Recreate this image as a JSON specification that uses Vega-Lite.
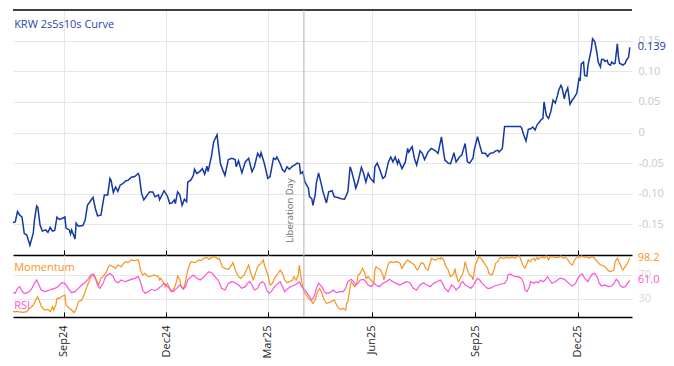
{
 "$schema": "https://vega.github.io/schema/vega-lite/v6.json",
 "padding": {"left": 10, "top": 9, "right": 5, "bottom": 5},
 "background": "white",
 "spacing": 0,
 "bounds": "flush",
 "config": {
  "view": {"stroke": null},
  "font": "Open Sans",
  "axis": {"gridColor": "#e6e6e6", "labelFont": "Open Sans", "titleFont": "Open Sans"},
  "text": {"font": "Open Sans"}
 },
 "datasets": {
  "curve": [
{"date":"2024-07-18","v":-0.147},{"date":"2024-07-20","v":-0.146},{"date":"2024-07-22","v":-0.129},{"date":"2024-07-24","v":-0.135},{"date":"2024-07-26","v":-0.138},{"date":"2024-07-28","v":-0.165},{"date":"2024-07-30","v":-0.167},{"date":"2024-07-31","v":-0.172},{"date":"2024-08-02","v":-0.184},{"date":"2024-08-05","v":-0.164},{"date":"2024-08-06","v":-0.143},{"date":"2024-08-08","v":-0.120},{"date":"2024-08-09","v":-0.122},{"date":"2024-08-11","v":-0.151},{"date":"2024-08-13","v":-0.161},{"date":"2024-08-16","v":-0.159},{"date":"2024-08-18","v":-0.163},{"date":"2024-08-20","v":-0.155},{"date":"2024-08-22","v":-0.161},{"date":"2024-08-24","v":-0.160},{"date":"2024-08-26","v":-0.138},{"date":"2024-08-28","v":-0.142},{"date":"2024-08-31","v":-0.140},{"date":"2024-09-02","v":-0.138},{"date":"2024-09-03","v":-0.156},{"date":"2024-09-06","v":-0.159},{"date":"2024-09-07","v":-0.166},{"date":"2024-09-08","v":-0.159},{"date":"2024-09-11","v":-0.174},{"date":"2024-09-12","v":-0.148},{"date":"2024-09-14","v":-0.153},{"date":"2024-09-18","v":-0.152},{"date":"2024-09-20","v":-0.143},{"date":"2024-09-22","v":-0.119},{"date":"2024-09-25","v":-0.111},{"date":"2024-09-27","v":-0.106},{"date":"2024-09-29","v":-0.124},{"date":"2024-10-01","v":-0.136},{"date":"2024-10-04","v":-0.135},{"date":"2024-10-07","v":-0.102},{"date":"2024-10-10","v":-0.102},{"date":"2024-10-12","v":-0.075},{"date":"2024-10-13","v":-0.078},{"date":"2024-10-15","v":-0.098},{"date":"2024-10-17","v":-0.089},{"date":"2024-10-19","v":-0.096},{"date":"2024-10-21","v":-0.086},{"date":"2024-10-23","v":-0.084},{"date":"2024-10-26","v":-0.079},{"date":"2024-10-28","v":-0.078},{"date":"2024-10-31","v":-0.073},{"date":"2024-11-03","v":-0.072},{"date":"2024-11-06","v":-0.067},{"date":"2024-11-07","v":-0.071},{"date":"2024-11-09","v":-0.099},{"date":"2024-11-11","v":-0.110},{"date":"2024-11-13","v":-0.105},{"date":"2024-11-16","v":-0.097},{"date":"2024-11-19","v":-0.097},{"date":"2024-11-21","v":-0.105},{"date":"2024-11-24","v":-0.102},{"date":"2024-11-25","v":-0.110},{"date":"2024-11-29","v":-0.095},{"date":"2024-12-02","v":-0.104},{"date":"2024-12-04","v":-0.116},{"date":"2024-12-06","v":-0.115},{"date":"2024-12-08","v":-0.110},{"date":"2024-12-09","v":-0.116},{"date":"2024-12-11","v":-0.097},{"date":"2024-12-13","v":-0.102},{"date":"2024-12-15","v":-0.119},{"date":"2024-12-17","v":-0.109},{"date":"2024-12-19","v":-0.113},{"date":"2024-12-20","v":-0.081},{"date":"2024-12-23","v":-0.077},{"date":"2024-12-25","v":-0.070},{"date":"2024-12-26","v":-0.060},{"date":"2024-12-28","v":-0.067},{"date":"2024-12-31","v":-0.063},{"date":"2025-01-02","v":-0.059},{"date":"2025-01-04","v":-0.068},{"date":"2025-01-06","v":-0.055},{"date":"2025-01-07","v":-0.064},{"date":"2025-01-10","v":-0.039},{"date":"2025-01-12","v":-0.015},{"date":"2025-01-15","v":-0.004},{"date":"2025-01-16","v":-0.021},{"date":"2025-01-18","v":-0.051},{"date":"2025-01-20","v":-0.061},{"date":"2025-01-22","v":-0.070},{"date":"2025-01-25","v":-0.044},{"date":"2025-01-28","v":-0.042},{"date":"2025-01-31","v":-0.044},{"date":"2025-02-01","v":-0.056},{"date":"2025-02-03","v":-0.046},{"date":"2025-02-06","v":-0.066},{"date":"2025-02-09","v":-0.048},{"date":"2025-02-12","v":-0.042},{"date":"2025-02-15","v":-0.064},{"date":"2025-02-17","v":-0.056},{"date":"2025-02-20","v":-0.034},{"date":"2025-02-22","v":-0.040},{"date":"2025-02-23","v":-0.033},{"date":"2025-02-26","v":-0.051},{"date":"2025-03-01","v":-0.075},{"date":"2025-03-03","v":-0.072},{"date":"2025-03-06","v":-0.042},{"date":"2025-03-08","v":-0.044},{"date":"2025-03-09","v":-0.040},{"date":"2025-03-12","v":-0.051},{"date":"2025-03-14","v":-0.061},{"date":"2025-03-16","v":-0.064},{"date":"2025-03-18","v":-0.056},{"date":"2025-03-20","v":-0.060},{"date":"2025-03-23","v":-0.055},{"date":"2025-03-25","v":-0.053},{"date":"2025-03-27","v":-0.050},{"date":"2025-03-29","v":-0.051},{"date":"2025-03-30","v":-0.067},{"date":"2025-04-01","v":-0.064},{"date":"2025-04-03","v":-0.081},{"date":"2025-04-06","v":-0.091},{"date":"2025-04-07","v":-0.105},{"date":"2025-04-09","v":-0.108},{"date":"2025-04-10","v":-0.119},{"date":"2025-04-12","v":-0.102},{"date":"2025-04-13","v":-0.083},{"date":"2025-04-15","v":-0.066},{"date":"2025-04-17","v":-0.081},{"date":"2025-04-19","v":-0.097},{"date":"2025-04-22","v":-0.115},{"date":"2025-04-24","v":-0.097},{"date":"2025-04-27","v":-0.095},{"date":"2025-04-29","v":-0.105},{"date":"2025-05-02","v":-0.106},{"date":"2025-05-05","v":-0.108},{"date":"2025-05-08","v":-0.109},{"date":"2025-05-11","v":-0.097},{"date":"2025-05-13","v":-0.056},{"date":"2025-05-14","v":-0.061},{"date":"2025-05-17","v":-0.082},{"date":"2025-05-18","v":-0.091},{"date":"2025-05-20","v":-0.081},{"date":"2025-05-23","v":-0.057},{"date":"2025-05-25","v":-0.067},{"date":"2025-05-27","v":-0.081},{"date":"2025-05-29","v":-0.067},{"date":"2025-05-31","v":-0.075},{"date":"2025-06-03","v":-0.081},{"date":"2025-06-04","v":-0.056},{"date":"2025-06-06","v":-0.050},{"date":"2025-06-08","v":-0.059},{"date":"2025-06-11","v":-0.075},{"date":"2025-06-13","v":-0.072},{"date":"2025-06-16","v":-0.048},{"date":"2025-06-18","v":-0.040},{"date":"2025-06-20","v":-0.048},{"date":"2025-06-22","v":-0.040},{"date":"2025-06-24","v":-0.051},{"date":"2025-06-25","v":-0.045},{"date":"2025-06-28","v":-0.059},{"date":"2025-07-01","v":-0.048},{"date":"2025-07-03","v":-0.026},{"date":"2025-07-04","v":-0.032},{"date":"2025-07-07","v":-0.023},{"date":"2025-07-09","v":-0.042},{"date":"2025-07-11","v":-0.053},{"date":"2025-07-14","v":-0.030},{"date":"2025-07-16","v":-0.034},{"date":"2025-07-18","v":-0.044},{"date":"2025-07-21","v":-0.032},{"date":"2025-07-24","v":-0.026},{"date":"2025-07-27","v":-0.029},{"date":"2025-07-30","v":-0.034},{"date":"2025-08-02","v":-0.007},{"date":"2025-08-04","v":-0.033},{"date":"2025-08-05","v":-0.045},{"date":"2025-08-08","v":-0.050},{"date":"2025-08-10","v":-0.051},{"date":"2025-08-12","v":-0.040},{"date":"2025-08-13","v":-0.033},{"date":"2025-08-15","v":-0.048},{"date":"2025-08-18","v":-0.040},{"date":"2025-08-20","v":-0.037},{"date":"2025-08-23","v":-0.018},{"date":"2025-08-25","v":-0.048},{"date":"2025-08-27","v":-0.050},{"date":"2025-08-30","v":-0.042},{"date":"2025-08-31","v":-0.029},{"date":"2025-09-03","v":-0.007},{"date":"2025-09-05","v":-0.021},{"date":"2025-09-07","v":-0.034},{"date":"2025-09-10","v":-0.034},{"date":"2025-09-12","v":-0.039},{"date":"2025-09-14","v":-0.034},{"date":"2025-09-17","v":-0.033},{"date":"2025-09-19","v":-0.030},{"date":"2025-09-21","v":-0.029},{"date":"2025-09-22","v":-0.032},{"date":"2025-09-24","v":-0.028},{"date":"2025-09-25","v":-0.026},{"date":"2025-09-27","v":0.010},{"date":"2025-09-30","v":0.010},{"date":"2025-10-03","v":0.010},{"date":"2025-10-08","v":0.010},{"date":"2025-10-11","v":0.010},{"date":"2025-10-12","v":0.008},{"date":"2025-10-14","v":-0.004},{"date":"2025-10-16","v":-0.014},{"date":"2025-10-18","v":0.005},{"date":"2025-10-20","v":0.006},{"date":"2025-10-22","v":0.009},{"date":"2025-10-24","v":0.004},{"date":"2025-10-26","v":0.013},{"date":"2025-10-28","v":0.017},{"date":"2025-10-29","v":0.020},{"date":"2025-10-31","v":0.023},{"date":"2025-11-01","v":0.050},{"date":"2025-11-03","v":0.028},{"date":"2025-11-05","v":0.023},{"date":"2025-11-07","v":0.034},{"date":"2025-11-09","v":0.053},{"date":"2025-11-11","v":0.048},{"date":"2025-11-13","v":0.061},{"date":"2025-11-14","v":0.069},{"date":"2025-11-16","v":0.077},{"date":"2025-11-17","v":0.073},{"date":"2025-11-19","v":0.055},{"date":"2025-11-20","v":0.064},{"date":"2025-11-22","v":0.073},{"date":"2025-11-24","v":0.046},{"date":"2025-11-26","v":0.053},{"date":"2025-11-27","v":0.055},{"date":"2025-11-29","v":0.061},{"date":"2025-11-30","v":0.064},{"date":"2025-12-02","v":0.088},{"date":"2025-12-03","v":0.086},{"date":"2025-12-04","v":0.112},{"date":"2025-12-06","v":0.115},{"date":"2025-12-07","v":0.093},{"date":"2025-12-09","v":0.092},{"date":"2025-12-10","v":0.110},{"date":"2025-12-13","v":0.137},{"date":"2025-12-14","v":0.153},{"date":"2025-12-16","v":0.148},{"date":"2025-12-18","v":0.129},{"date":"2025-12-19","v":0.115},{"date":"2025-12-21","v":0.107},{"date":"2025-12-22","v":0.119},{"date":"2025-12-24","v":0.119},{"date":"2025-12-25","v":0.116},{"date":"2025-12-27","v":0.118},{"date":"2025-12-28","v":0.112},{"date":"2025-12-30","v":0.110},{"date":"2025-12-31","v":0.115},{"date":"2026-01-02","v":0.112},{"date":"2026-01-03","v":0.113},{"date":"2026-01-05","v":0.145},{"date":"2026-01-06","v":0.123},{"date":"2026-01-07","v":0.113},{"date":"2026-01-09","v":0.111},{"date":"2026-01-10","v":0.110},{"date":"2026-01-12","v":0.113},{"date":"2026-01-13","v":0.118},{"date":"2026-01-15","v":0.123},{"date":"2026-01-16","v":0.139}
  ],
  "mom": [
{"date":"2024-07-18","v":8.9},{"date":"2024-07-22","v":8.9},{"date":"2024-07-27","v":7.8},{"date":"2024-07-30","v":8.9},{"date":"2024-08-02","v":14.4},{"date":"2024-08-05","v":19.9},{"date":"2024-08-08","v":31},{"date":"2024-08-09","v":33.8},{"date":"2024-08-12","v":18.3},{"date":"2024-08-15","v":11.6},{"date":"2024-08-18","v":12.7},{"date":"2024-08-20","v":8.9},{"date":"2024-08-22","v":17.2},{"date":"2024-08-23","v":11.6},{"date":"2024-08-25","v":19.9},{"date":"2024-08-26","v":31},{"date":"2024-08-28","v":31},{"date":"2024-08-30","v":33.8},{"date":"2024-09-02","v":36.6},{"date":"2024-09-03","v":19.9},{"date":"2024-09-06","v":14.4},{"date":"2024-09-08","v":11.6},{"date":"2024-09-10","v":7.2},{"date":"2024-09-12","v":12.7},{"date":"2024-09-14","v":25.5},{"date":"2024-09-17","v":28.2},{"date":"2024-09-19","v":36.6},{"date":"2024-09-21","v":47.6},{"date":"2024-09-23","v":57},{"date":"2024-09-25","v":67},{"date":"2024-09-28","v":69.8},{"date":"2024-09-30","v":61.5},{"date":"2024-10-02","v":53.2},{"date":"2024-10-04","v":64.2},{"date":"2024-10-07","v":69.8},{"date":"2024-10-09","v":75.3},{"date":"2024-10-10","v":80.8},{"date":"2024-10-12","v":86.4},{"date":"2024-10-15","v":83.6},{"date":"2024-10-17","v":80.8},{"date":"2024-10-19","v":86.4},{"date":"2024-10-22","v":83.6},{"date":"2024-10-24","v":89.2},{"date":"2024-10-26","v":91.9},{"date":"2024-10-28","v":90.3},{"date":"2024-10-31","v":94.7},{"date":"2024-11-03","v":93.6},{"date":"2024-11-06","v":94.7},{"date":"2024-11-07","v":89.2},{"date":"2024-11-08","v":78.1},{"date":"2024-11-10","v":69.8},{"date":"2024-11-12","v":72.5},{"date":"2024-11-15","v":67},{"date":"2024-11-18","v":68.1},{"date":"2024-11-20","v":69.8},{"date":"2024-11-24","v":67},{"date":"2024-11-25","v":61.5},{"date":"2024-11-26","v":64.2},{"date":"2024-11-29","v":55.9},{"date":"2024-11-30","v":50.4},{"date":"2024-12-02","v":55.9},{"date":"2024-12-04","v":47.6},{"date":"2024-12-05","v":42.1},{"date":"2024-12-08","v":47.6},{"date":"2024-12-10","v":58.7},{"date":"2024-12-11","v":68.1},{"date":"2024-12-13","v":61.5},{"date":"2024-12-14","v":51.5},{"date":"2024-12-16","v":47.6},{"date":"2024-12-17","v":50.4},{"date":"2024-12-20","v":78.1},{"date":"2024-12-22","v":88},{"date":"2024-12-23","v":91.9},{"date":"2024-12-26","v":90.3},{"date":"2024-12-28","v":91.9},{"date":"2024-12-30","v":94.7},{"date":"2025-01-01","v":93.6},{"date":"2025-01-03","v":97.5},{"date":"2025-01-06","v":99.1},{"date":"2025-01-08","v":95.8},{"date":"2025-01-10","v":99.1},{"date":"2025-01-13","v":100.2},{"date":"2025-01-16","v":95.8},{"date":"2025-01-17","v":97.5},{"date":"2025-01-19","v":86.4},{"date":"2025-01-20","v":82.5},{"date":"2025-01-22","v":80.8},{"date":"2025-01-25","v":79.2},{"date":"2025-01-28","v":86.4},{"date":"2025-01-29","v":90.3},{"date":"2025-02-01","v":74},{"date":"2025-02-03","v":67},{"date":"2025-02-05","v":64.2},{"date":"2025-02-08","v":69.8},{"date":"2025-02-10","v":78.1},{"date":"2025-02-12","v":86.4},{"date":"2025-02-14","v":72.5},{"date":"2025-02-16","v":61.5},{"date":"2025-02-18","v":72.5},{"date":"2025-02-20","v":83.6},{"date":"2025-02-23","v":89.2},{"date":"2025-02-25","v":94.7},{"date":"2025-02-26","v":86.4},{"date":"2025-03-01","v":69.8},{"date":"2025-03-03","v":53.2},{"date":"2025-03-05","v":55.9},{"date":"2025-03-07","v":64.2},{"date":"2025-03-09","v":69.8},{"date":"2025-03-12","v":78.1},{"date":"2025-03-14","v":72.5},{"date":"2025-03-16","v":61.5},{"date":"2025-03-18","v":57},{"date":"2025-03-20","v":58.7},{"date":"2025-03-23","v":61.5},{"date":"2025-03-24","v":67},{"date":"2025-03-26","v":61.5},{"date":"2025-03-28","v":69.8},{"date":"2025-03-29","v":86.4},{"date":"2025-03-31","v":58.7},{"date":"2025-04-02","v":42.1},{"date":"2025-04-04","v":36.6},{"date":"2025-04-06","v":31},{"date":"2025-04-09","v":25.5},{"date":"2025-04-10","v":22.7},{"date":"2025-04-12","v":28.2},{"date":"2025-04-14","v":42.1},{"date":"2025-04-16","v":47.6},{"date":"2025-04-18","v":39.3},{"date":"2025-04-20","v":28.2},{"date":"2025-04-22","v":22.7},{"date":"2025-04-24","v":23.8},{"date":"2025-04-26","v":25.5},{"date":"2025-04-29","v":28.2},{"date":"2025-05-01","v":19.9},{"date":"2025-05-03","v":14.4},{"date":"2025-05-05","v":12.7},{"date":"2025-05-07","v":14.4},{"date":"2025-05-09","v":11.6},{"date":"2025-05-10","v":22.7},{"date":"2025-05-11","v":25.5},{"date":"2025-05-13","v":50.4},{"date":"2025-05-14","v":58.7},{"date":"2025-05-17","v":50.4},{"date":"2025-05-19","v":55.9},{"date":"2025-05-20","v":69.8},{"date":"2025-05-22","v":72.5},{"date":"2025-05-24","v":80.8},{"date":"2025-05-26","v":73.7},{"date":"2025-05-27","v":64.2},{"date":"2025-05-29","v":67},{"date":"2025-05-31","v":62.6},{"date":"2025-06-03","v":55.9},{"date":"2025-06-04","v":78.1},{"date":"2025-06-05","v":83.6},{"date":"2025-06-07","v":80.8},{"date":"2025-06-09","v":78.1},{"date":"2025-06-11","v":69.8},{"date":"2025-06-12","v":61.5},{"date":"2025-06-14","v":75.3},{"date":"2025-06-16","v":89.2},{"date":"2025-06-18","v":91.9},{"date":"2025-06-20","v":90.3},{"date":"2025-06-23","v":91.9},{"date":"2025-06-26","v":90.3},{"date":"2025-06-27","v":84.7},{"date":"2025-06-28","v":80.8},{"date":"2025-07-01","v":90.3},{"date":"2025-07-03","v":94.7},{"date":"2025-07-05","v":91.9},{"date":"2025-07-07","v":89.2},{"date":"2025-07-09","v":86.4},{"date":"2025-07-11","v":79.2},{"date":"2025-07-12","v":78.1},{"date":"2025-07-14","v":86.4},{"date":"2025-07-15","v":90.3},{"date":"2025-07-17","v":89.2},{"date":"2025-07-19","v":80.8},{"date":"2025-07-21","v":78.1},{"date":"2025-07-23","v":89.2},{"date":"2025-07-24","v":97.5},{"date":"2025-07-26","v":95.8},{"date":"2025-07-28","v":94.7},{"date":"2025-07-30","v":97.5},{"date":"2025-08-01","v":95.8},{"date":"2025-08-02","v":99.1},{"date":"2025-08-04","v":94.7},{"date":"2025-08-06","v":83.6},{"date":"2025-08-08","v":78.1},{"date":"2025-08-10","v":67},{"date":"2025-08-13","v":72.5},{"date":"2025-08-14","v":80.8},{"date":"2025-08-15","v":69.8},{"date":"2025-08-17","v":58.7},{"date":"2025-08-18","v":61.5},{"date":"2025-08-21","v":72.5},{"date":"2025-08-22","v":80.8},{"date":"2025-08-23","v":91.9},{"date":"2025-08-25","v":78.1},{"date":"2025-08-27","v":69.8},{"date":"2025-08-29","v":67},{"date":"2025-08-30","v":61.5},{"date":"2025-09-01","v":86.4},{"date":"2025-09-03","v":94.7},{"date":"2025-09-04","v":100.2},{"date":"2025-09-06","v":97.5},{"date":"2025-09-08","v":91.9},{"date":"2025-09-10","v":86.4},{"date":"2025-09-12","v":80.8},{"date":"2025-09-13","v":72.5},{"date":"2025-09-15","v":69.8},{"date":"2025-09-16","v":69.8},{"date":"2025-09-18","v":80.8},{"date":"2025-09-19","v":89.2},{"date":"2025-09-21","v":91.9},{"date":"2025-09-23","v":99.1},{"date":"2025-09-26","v":97.5},{"date":"2025-09-29","v":99.1},{"date":"2025-10-02","v":97.5},{"date":"2025-10-03","v":100.2},{"date":"2025-10-06","v":97.5},{"date":"2025-10-08","v":100.2},{"date":"2025-10-10","v":101.3},{"date":"2025-10-11","v":97.5},{"date":"2025-10-13","v":86.4},{"date":"2025-10-15","v":80.8},{"date":"2025-10-17","v":89.2},{"date":"2025-10-18","v":94.7},{"date":"2025-10-20","v":91.9},{"date":"2025-10-21","v":95.8},{"date":"2025-10-23","v":97.5},{"date":"2025-10-24","v":93.6},{"date":"2025-10-26","v":99.1},{"date":"2025-10-27","v":95.8},{"date":"2025-10-28","v":97.5},{"date":"2025-10-31","v":100.2},{"date":"2025-11-01","v":97.5},{"date":"2025-11-03","v":101.3},{"date":"2025-11-05","v":94.7},{"date":"2025-11-06","v":99.1},{"date":"2025-11-08","v":100.2},{"date":"2025-11-11","v":99.1},{"date":"2025-11-14","v":99.1},{"date":"2025-11-16","v":101.3},{"date":"2025-11-18","v":97.5},{"date":"2025-11-20","v":99.1},{"date":"2025-11-22","v":95.8},{"date":"2025-11-24","v":89.2},{"date":"2025-11-26","v":86.4},{"date":"2025-11-27","v":90.3},{"date":"2025-11-29","v":97.5},{"date":"2025-12-01","v":100.2},{"date":"2025-12-03","v":99.1},{"date":"2025-12-04","v":101.3},{"date":"2025-12-07","v":99.1},{"date":"2025-12-09","v":100.2},{"date":"2025-12-11","v":97.5},{"date":"2025-12-13","v":100.2},{"date":"2025-12-15","v":99.1},{"date":"2025-12-17","v":94.7},{"date":"2025-12-19","v":90.3},{"date":"2025-12-21","v":86.4},{"date":"2025-12-22","v":86.4},{"date":"2025-12-25","v":83.6},{"date":"2025-12-28","v":77},{"date":"2025-12-30","v":75.3},{"date":"2026-01-02","v":78.1},{"date":"2026-01-03","v":91.9},{"date":"2026-01-05","v":97.5},{"date":"2026-01-07","v":89.2},{"date":"2026-01-09","v":80.8},{"date":"2026-01-10","v":78.1},{"date":"2026-01-12","v":83.6},{"date":"2026-01-14","v":89.2},{"date":"2026-01-16","v":98.2}
  ],
  "rsi": [
{"date":"2024-07-18","v":40.4},{"date":"2024-07-20","v":39.3},{"date":"2024-07-22","v":47.6},{"date":"2024-07-24","v":50.4},{"date":"2024-07-25","v":46},{"date":"2024-07-27","v":40.4},{"date":"2024-07-28","v":39.3},{"date":"2024-07-31","v":40.4},{"date":"2024-08-03","v":44.9},{"date":"2024-08-06","v":55.9},{"date":"2024-08-08","v":61.5},{"date":"2024-08-10","v":53.2},{"date":"2024-08-12","v":44.9},{"date":"2024-08-15","v":42.1},{"date":"2024-08-18","v":43.7},{"date":"2024-08-21","v":46},{"date":"2024-08-24","v":47.6},{"date":"2024-08-27","v":50.4},{"date":"2024-08-30","v":57},{"date":"2024-09-02","v":55.9},{"date":"2024-09-05","v":47.6},{"date":"2024-09-08","v":40.4},{"date":"2024-09-11","v":42.1},{"date":"2024-09-14","v":47.6},{"date":"2024-09-17","v":53.2},{"date":"2024-09-19","v":55.9},{"date":"2024-09-22","v":61.5},{"date":"2024-09-25","v":69.8},{"date":"2024-09-27","v":71.4},{"date":"2024-09-29","v":64.2},{"date":"2024-10-01","v":53.2},{"date":"2024-10-03","v":47.6},{"date":"2024-10-06","v":55.9},{"date":"2024-10-08","v":67},{"date":"2024-10-10","v":69.8},{"date":"2024-10-12","v":72.5},{"date":"2024-10-15","v":67},{"date":"2024-10-17","v":58.7},{"date":"2024-10-19","v":57},{"date":"2024-10-22","v":61.5},{"date":"2024-10-25","v":58.7},{"date":"2024-10-28","v":60.4},{"date":"2024-10-31","v":62.6},{"date":"2024-11-03","v":64.2},{"date":"2024-11-06","v":67},{"date":"2024-11-08","v":58.7},{"date":"2024-11-10","v":44.9},{"date":"2024-11-12","v":39.3},{"date":"2024-11-15","v":42.1},{"date":"2024-11-18","v":46},{"date":"2024-11-21","v":43.7},{"date":"2024-11-24","v":47.6},{"date":"2024-11-26","v":50.4},{"date":"2024-11-29","v":55.9},{"date":"2024-12-02","v":50.4},{"date":"2024-12-05","v":44.9},{"date":"2024-12-07","v":42.1},{"date":"2024-12-10","v":47.6},{"date":"2024-12-13","v":53.2},{"date":"2024-12-16","v":46},{"date":"2024-12-18","v":50.4},{"date":"2024-12-20","v":61.5},{"date":"2024-12-23","v":67},{"date":"2024-12-25","v":69.8},{"date":"2024-12-28","v":64.2},{"date":"2024-12-31","v":61.5},{"date":"2025-01-02","v":64.2},{"date":"2025-01-06","v":72.5},{"date":"2025-01-08","v":75.3},{"date":"2025-01-11","v":72.5},{"date":"2025-01-13","v":67},{"date":"2025-01-16","v":61.5},{"date":"2025-01-19","v":47.6},{"date":"2025-01-22","v":44.9},{"date":"2025-01-25","v":55.9},{"date":"2025-01-28","v":58.7},{"date":"2025-01-31","v":57},{"date":"2025-02-03","v":53.2},{"date":"2025-02-06","v":47.6},{"date":"2025-02-09","v":50.4},{"date":"2025-02-11","v":55.9},{"date":"2025-02-13","v":58.7},{"date":"2025-02-15","v":53.2},{"date":"2025-02-17","v":44.9},{"date":"2025-02-20","v":47.6},{"date":"2025-02-22","v":55.9},{"date":"2025-02-24","v":58.7},{"date":"2025-02-26","v":55.9},{"date":"2025-02-28","v":44.9},{"date":"2025-03-02","v":39.3},{"date":"2025-03-04","v":42.1},{"date":"2025-03-07","v":50.4},{"date":"2025-03-10","v":55.9},{"date":"2025-03-12","v":58.7},{"date":"2025-03-14","v":50.4},{"date":"2025-03-16","v":42.1},{"date":"2025-03-18","v":46},{"date":"2025-03-21","v":50.4},{"date":"2025-03-25","v":53.2},{"date":"2025-03-28","v":57},{"date":"2025-03-29","v":58.7},{"date":"2025-03-31","v":50.4},{"date":"2025-04-02","v":46},{"date":"2025-04-04","v":42.1},{"date":"2025-04-07","v":33.8},{"date":"2025-04-09","v":28.2},{"date":"2025-04-11","v":33.8},{"date":"2025-04-13","v":47.6},{"date":"2025-04-15","v":55.9},{"date":"2025-04-18","v":50.4},{"date":"2025-04-20","v":42.1},{"date":"2025-04-22","v":39.3},{"date":"2025-04-25","v":40.4},{"date":"2025-04-28","v":44.9},{"date":"2025-05-01","v":40.4},{"date":"2025-05-04","v":42.1},{"date":"2025-05-07","v":42.1},{"date":"2025-05-09","v":47.6},{"date":"2025-05-11","v":58.7},{"date":"2025-05-14","v":62.6},{"date":"2025-05-16","v":58.7},{"date":"2025-05-18","v":53.2},{"date":"2025-05-20","v":55.9},{"date":"2025-05-22","v":61.5},{"date":"2025-05-25","v":62.6},{"date":"2025-05-27","v":58.7},{"date":"2025-05-29","v":53.2},{"date":"2025-06-01","v":50.4},{"date":"2025-06-03","v":55.9},{"date":"2025-06-05","v":53.2},{"date":"2025-06-08","v":50.4},{"date":"2025-06-11","v":55.9},{"date":"2025-06-14","v":58.7},{"date":"2025-06-17","v":62.6},{"date":"2025-06-20","v":58.7},{"date":"2025-06-23","v":55.9},{"date":"2025-06-26","v":53.2},{"date":"2025-06-29","v":55.9},{"date":"2025-07-02","v":58.7},{"date":"2025-07-05","v":57},{"date":"2025-07-08","v":47.6},{"date":"2025-07-11","v":44.9},{"date":"2025-07-14","v":53.2},{"date":"2025-07-17","v":57},{"date":"2025-07-20","v":53.2},{"date":"2025-07-23","v":50.4},{"date":"2025-07-26","v":55.9},{"date":"2025-07-29","v":58.7},{"date":"2025-08-01","v":61.5},{"date":"2025-08-03","v":55.9},{"date":"2025-08-05","v":47.6},{"date":"2025-08-08","v":42.1},{"date":"2025-08-11","v":53.2},{"date":"2025-08-13","v":50.4},{"date":"2025-08-15","v":44.9},{"date":"2025-08-18","v":50.4},{"date":"2025-08-19","v":55.9},{"date":"2025-08-21","v":58.7},{"date":"2025-08-23","v":53.2},{"date":"2025-08-26","v":50.4},{"date":"2025-08-28","v":47.6},{"date":"2025-08-30","v":51.5},{"date":"2025-09-01","v":58.7},{"date":"2025-09-03","v":64.2},{"date":"2025-09-05","v":61.5},{"date":"2025-09-07","v":55.9},{"date":"2025-09-10","v":50.4},{"date":"2025-09-12","v":47.6},{"date":"2025-09-14","v":47.6},{"date":"2025-09-16","v":49.3},{"date":"2025-09-18","v":51.5},{"date":"2025-09-21","v":53.2},{"date":"2025-09-24","v":54.8},{"date":"2025-09-27","v":55.9},{"date":"2025-09-29","v":61.5},{"date":"2025-09-30","v":69.8},{"date":"2025-10-02","v":71.4},{"date":"2025-10-05","v":68.1},{"date":"2025-10-07","v":67},{"date":"2025-10-09","v":67},{"date":"2025-10-12","v":64.2},{"date":"2025-10-14","v":55.9},{"date":"2025-10-15","v":44.9},{"date":"2025-10-17","v":42.1},{"date":"2025-10-19","v":50.4},{"date":"2025-10-20","v":58.7},{"date":"2025-10-23","v":55.9},{"date":"2025-10-25","v":58.7},{"date":"2025-10-27","v":57},{"date":"2025-10-29","v":61.5},{"date":"2025-10-31","v":58.7},{"date":"2025-11-02","v":61.5},{"date":"2025-11-04","v":67},{"date":"2025-11-06","v":61.5},{"date":"2025-11-08","v":55.9},{"date":"2025-11-11","v":58.7},{"date":"2025-11-13","v":61.5},{"date":"2025-11-15","v":64.2},{"date":"2025-11-17","v":64.2},{"date":"2025-11-20","v":61.5},{"date":"2025-11-23","v":55.9},{"date":"2025-11-26","v":51.5},{"date":"2025-11-29","v":55.9},{"date":"2025-12-01","v":64.2},{"date":"2025-12-03","v":69.8},{"date":"2025-12-05","v":71.4},{"date":"2025-12-07","v":64.2},{"date":"2025-12-10","v":58.7},{"date":"2025-12-12","v":67},{"date":"2025-12-14","v":71.4},{"date":"2025-12-16","v":72.5},{"date":"2025-12-18","v":67},{"date":"2025-12-20","v":55.9},{"date":"2025-12-22","v":51.5},{"date":"2025-12-25","v":53.2},{"date":"2025-12-28","v":50.4},{"date":"2025-12-31","v":51.5},{"date":"2026-01-02","v":55.9},{"date":"2026-01-04","v":62.6},{"date":"2026-01-06","v":58.7},{"date":"2026-01-07","v":53.2},{"date":"2026-01-10","v":49.3},{"date":"2026-01-12","v":50.4},{"date":"2026-01-14","v":55.9},{"date":"2026-01-16","v":61.0}
  ],
  "events": [{"date": "2025-04-02", "event": "Liberation Day"}]
 },
 "vconcat": [
  {
   "width": 619,
   "height": 245,
   "layer": [
    {
     "data": {"name": "curve"},
     "mark": {"type": "line", "color": "#1538a5", "strokeWidth": 1.5},
     "encoding": {
      "x": {"field": "date", "type": "temporal",
            "scale": {"domain": [{"year": 2024, "month": 7, "date": 18}, {"year": 2026, "month": 1, "date": 18}]},
            "axis": {"values": [{"year": 2024, "month": 9, "date": 1}, {"year": 2024, "month": 12, "date": 1}, {"year": 2025, "month": 3, "date": 1}, {"year": 2025, "month": 6, "date": 1}, {"year": 2025, "month": 9, "date": 1}, {"year": 2025, "month": 12, "date": 1}],
                     "orient": "bottom", "labels": false, "title": null, "grid": true,
                     "domainColor": "#000000", "domainWidth": 1.5, "tickColor": "#000000", "tickSize": -5, "tickWidth": 1}},
      "y": {"field": "v", "type": "quantitative",
            "scale": {"domain": [-0.2, 0.2], "nice": false, "zero": false},
            "axis": {"orient": "right", "values": [-0.15, -0.1, -0.05, 0, 0.05, 0.1, 0.15],
                     "labelExpr": "datum.value == 0 ? '0' : (datum.value < 0 ? '-' : '') + format(abs(datum.value), '.2f')",
                     "ticks": false, "domain": false, "grid": true, "title": null,
                     "labelColor": "#c8c8c8", "labelFontSize": 11, "labelPadding": 6}}
     }
    },
    {
     "data": {"values": [{}]},
     "mark": {"type": "rule", "color": "#000000", "strokeWidth": 1.5},
     "encoding": {"y": {"datum": 0.2}}
    },
    {
     "data": {"name": "events"},
     "mark": {"type": "rule", "color": "#b0b0b0", "strokeWidth": 1},
     "encoding": {"x": {"field": "date", "type": "temporal"}}
    },
    {
     "data": {"name": "events"},
     "mark": {"type": "text", "angle": 270, "align": "left", "baseline": "bottom", "dy": -9, "fontSize": 9.5, "color": "#6e6e6e"},
     "encoding": {"x": {"field": "date", "type": "temporal"}, "y": {"datum": -0.18}, "text": {"field": "event"}}
    },
    {
     "data": {"values": [{}]},
     "mark": {"type": "text", "align": "left", "baseline": "middle", "fontSize": 11, "color": "#1f45ad", "text": "KRW 2s5s10s Curve"},
     "encoding": {"x": {"datum": {"year": 2024, "month": 7, "date": 19}, "type": "temporal"}, "y": {"datum": 0.175}}
    },
    {
     "data": {"name": "curve"},
     "transform": [{"window": [{"op": "row_number", "as": "rn"}], "sort": [{"field": "date", "order": "descending"}]}, {"filter": "datum.rn == 1"}],
     "mark": {"type": "text", "align": "left", "baseline": "middle", "dx": 8, "fontSize": 11, "color": "#1538a5"},
     "encoding": {"x": {"field": "date", "type": "temporal"}, "y": {"field": "v", "type": "quantitative"}, "text": {"field": "v", "type": "quantitative", "format": ".3f"}}
    }
   ]
  },
  {
   "width": 619,
   "height": 62,
   "layer": [
    {
     "data": {"name": "mom"},
     "mark": {"type": "line", "color": "#f7931e", "strokeWidth": 1.2},
     "encoding": {
      "x": {"field": "date", "type": "temporal",
            "scale": {"domain": [{"year": 2024, "month": 7, "date": 18}, {"year": 2026, "month": 1, "date": 18}]},
            "axis": {"values": [{"year": 2024, "month": 9, "date": 1}, {"year": 2024, "month": 12, "date": 1}, {"year": 2025, "month": 3, "date": 1}, {"year": 2025, "month": 6, "date": 1}, {"year": 2025, "month": 9, "date": 1}, {"year": 2025, "month": 12, "date": 1}],
                     "format": "%b%y", "orient": "bottom", "title": null, "grid": true,
                     "labelAngle": -90, "labelFontSize": 11, "labelColor": "#222222", "labelPadding": 13,
                     "domainColor": "#000000", "domainWidth": 1.5, "tickColor": "#000000", "tickSize": -5, "tickWidth": 1}},
      "y": {"field": "v", "type": "quantitative",
            "scale": {"domain": [0, 103], "nice": false},
            "axis": {"orient": "right", "values": [30, 70], "ticks": false, "domain": false, "grid": true, "title": null,
                     "labelColor": "#d8d8d8", "labelFontSize": 11, "labelPadding": 6}}
     }
    },
    {
     "data": {"name": "rsi"},
     "mark": {"type": "line", "color": "#fa52dc", "strokeWidth": 1.2},
     "encoding": {"x": {"field": "date", "type": "temporal"}, "y": {"field": "v", "type": "quantitative"}}
    },
    {
     "data": {"name": "events"},
     "mark": {"type": "rule", "color": "#b0b0b0", "strokeWidth": 1},
     "encoding": {"x": {"field": "date", "type": "temporal"}}
    },
    {
     "data": {"values": [{}]},
     "mark": {"type": "text", "align": "left", "baseline": "middle", "fontSize": 11, "color": "#f7931e", "text": "Momentum"},
     "encoding": {"x": {"datum": {"year": 2024, "month": 7, "date": 19}, "type": "temporal"}, "y": {"datum": 81}}
    },
    {
     "data": {"values": [{}]},
     "mark": {"type": "text", "align": "left", "baseline": "middle", "fontSize": 11, "color": "#fa52dc", "text": "RSI"},
     "encoding": {"x": {"datum": {"year": 2024, "month": 7, "date": 19}, "type": "temporal"}, "y": {"datum": 18}}
    },
    {
     "data": {"name": "mom"},
     "transform": [{"window": [{"op": "row_number", "as": "rn"}], "sort": [{"field": "date", "order": "descending"}]}, {"filter": "datum.rn == 1"}],
     "mark": {"type": "text", "align": "left", "baseline": "middle", "dx": 8, "fontSize": 11, "color": "#f7931e"},
     "encoding": {"x": {"field": "date", "type": "temporal"}, "y": {"field": "v", "type": "quantitative"}, "text": {"field": "v", "type": "quantitative", "format": ".1f"}}
    },
    {
     "data": {"name": "rsi"},
     "transform": [{"window": [{"op": "row_number", "as": "rn"}], "sort": [{"field": "date", "order": "descending"}]}, {"filter": "datum.rn == 1"}],
     "mark": {"type": "text", "align": "left", "baseline": "middle", "dx": 8, "fontSize": 11, "color": "#fa52dc"},
     "encoding": {"x": {"field": "date", "type": "temporal"}, "y": {"field": "v", "type": "quantitative"}, "text": {"field": "v", "type": "quantitative", "format": ".1f"}}
    }
   ]
  }
 ]
}
